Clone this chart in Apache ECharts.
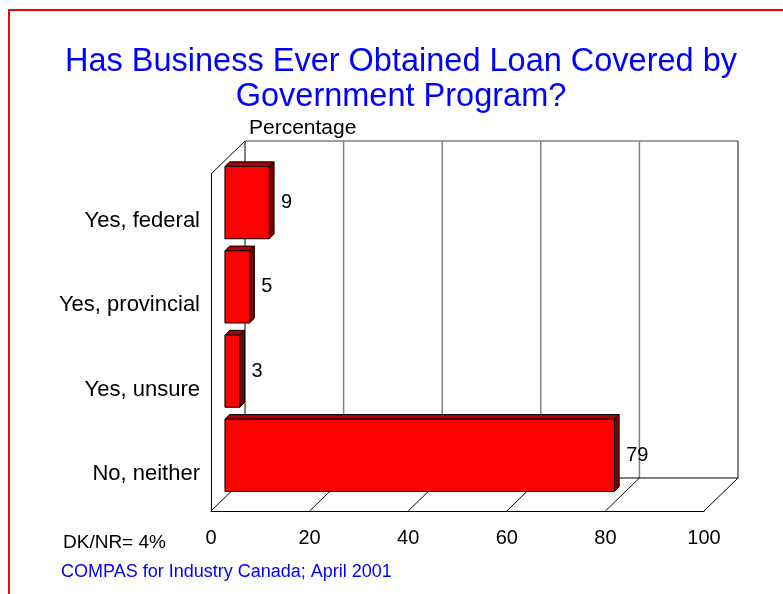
<!DOCTYPE html>
<html>
<head>
<meta charset="utf-8">
<script src="https://cdn.jsdelivr.net/npm/echarts@6/dist/echarts.min.js"></script>
<style>
  html, body { margin: 0; padding: 0; background: #fff; }
  #chart { width: 783px; height: 594px; }
</style>
</head>
<body>
<div id="chart"></div>
<script>
// Survey answers and their shares (percent)
const categories = ['Yes, federal', 'Yes, provincial', 'Yes, unsure', 'No, neither'];
const values = [9, 5, 3, 79];
const xTicks = [0, 20, 40, 60, 80, 100];

const titleText = 'Has Business Ever Obtained Loan Covered by\nGovernment Program?';
const axisTitle = 'Percentage';
const noteText = 'DK/NR= 4%';
const sourceText = 'COMPAS for Industry Canada; April 2001';

const FONT = 'Liberation Sans, Arial, sans-serif';

// Oblique depth of the 3D box (pixels from front plane to back wall)
const DX = 34, DY = -33;
// Bar slab placement inside the depth: front face fraction and thickness fraction
const BAR_T0 = 0.41, BAR_T = 0.14;
const BAR_FILL = 0.858;

const chart = echarts.init(document.getElementById('chart'), null, { renderer: 'canvas' });

function line(x1, y1, x2, y2, color, w) {
  return {
    type: 'line',
    shape: { x1, y1, x2, y2 },
    style: { stroke: color, lineWidth: w || 1 },
    silent: true
  };
}

// Back wall, floor and side wall of the 3D box
function renderFrame(params, api) {
  const cs = params.coordSys;
  const x0 = cs.x, y0 = cs.y, x1 = cs.x + cs.width, y1 = cs.y + cs.height;
  const children = [];
  // gridlines on the back wall
  xTicks.forEach(function (v) {
    if (v === xTicks[0] || v === xTicks[xTicks.length - 1]) return;
    const x = api.coord([v, 0])[0] + DX;
    children.push(line(x, y0 + DY, x, y1 + DY, '#808080', 1.5));
  });
  // floor diagonals at each tick
  xTicks.forEach(function (v) {
    const x = api.coord([v, 0])[0];
    children.push(line(x, y1, x + DX, y1 + DY, '#000', 1));
  });
  // back wall outline
  children.push(line(x0 + DX, y0 + DY, x1 + DX, y0 + DY, '#808080', 1.5));
  children.push(line(x1 + DX, y0 + DY, x1 + DX, y1 + DY, '#333', 1.2));
  children.push(line(x0 + DX, y1 + DY, x1 + DX, y1 + DY, '#000', 1));
  children.push(line(x0 + DX, y0 + DY, x0 + DX, y1 + DY, '#000', 1));
  // side wall top edge
  children.push(line(x0, y0, x0 + DX, y0 + DY, '#000', 1));
  return { type: 'group', children: children };
}

// One 3D slab per category: front face, top face, side face and value label
function renderBar(params, api) {
  const idx = api.value(1);
  const val = api.value(0);
  const c0 = api.coord([0, idx]);
  const c1 = api.coord([val, idx]);
  const band = api.size([0, 1])[1];
  const h = band * BAR_FILL;
  const fx = c0[0] + DX * BAR_T0;
  const fy = c0[1] - h / 2 + DY * BAR_T0;
  const w = c1[0] - c0[0];
  const bx = DX * BAR_T, by = DY * BAR_T;
  const stroke = { stroke: '#000', lineWidth: 1 };
  return {
    type: 'group',
    children: [
      {
        type: 'polygon',
        shape: { points: [[fx, fy], [fx + w, fy], [fx + w + bx, fy + by], [fx + bx, fy + by]] },
        style: Object.assign({ fill: '#B00000' }, stroke)
      },
      {
        type: 'polygon',
        shape: { points: [[fx + w, fy], [fx + w + bx, fy + by], [fx + w + bx, fy + h + by], [fx + w, fy + h]] },
        style: Object.assign({ fill: '#7A0000' }, stroke)
      },
      {
        type: 'rect',
        shape: { x: fx, y: fy, width: w, height: h },
        style: Object.assign({ fill: '#FF0000' }, stroke)
      },
      {
        type: 'text',
        style: {
          x: fx + w + bx + 7,
          y: fy + h / 2,
          text: String(val),
          fill: '#000',
          font: '20px ' + FONT,
          textAlign: 'left',
          textVerticalAlign: 'middle'
        }
      }
    ]
  };
}

const option = {
  animation: false,
  backgroundColor: '#fff',
  grid: { left: 211, top: 174, width: 493, height: 337, containLabel: false },
  xAxis: {
    type: 'value',
    min: 0,
    max: 100,
    interval: 20,
    axisLine: { show: true, lineStyle: { color: '#000', width: 1 } },
    axisTick: { show: false },
    splitLine: { show: false },
    axisLabel: { color: '#000', fontSize: 20, fontFamily: FONT, margin: 17 }
  },
  yAxis: {
    type: 'category',
    inverse: true,
    data: categories,
    axisLine: { show: true, lineStyle: { color: '#000', width: 1 } },
    axisTick: { show: false },
    splitLine: { show: false },
    axisLabel: {
      color: '#000', fontSize: 22, fontFamily: FONT, margin: 11,
      verticalAlign: 'top', lineHeight: 10
    }
  },
  series: [
    {
      type: 'custom',
      renderItem: renderFrame,
      data: [[0, 0]],
      z: 1,
      silent: true
    },
    {
      type: 'custom',
      renderItem: renderBar,
      data: values.map(function (v, i) { return [v, i]; }),
      encode: { x: 0, y: 1 },
      z: 2
    }
  ],
  graphic: [
    {
      type: 'polyline',
      shape: { points: [[9, 594], [9, 10], [783, 10]] },
      style: { stroke: '#FF0000', lineWidth: 2, fill: null },
      silent: true
    },
    {
      type: 'text',
      x: 401,
      y: 45,
      style: {
        text: titleText,
        fill: '#0000FF',
        font: '32.5px ' + FONT,
        lineHeight: 35,
        textAlign: 'center',
        textVerticalAlign: 'top'
      }
    },
    {
      type: 'text',
      x: 249,
      y: 128,
      style: { text: axisTitle, fill: '#000', font: '21px ' + FONT, textAlign: 'left', textVerticalAlign: 'middle' }
    },
    {
      type: 'text',
      x: 63,
      y: 543,
      style: { text: noteText, fill: '#000', font: '19px ' + FONT, textAlign: 'left', textVerticalAlign: 'middle' }
    },
    {
      type: 'text',
      x: 61,
      y: 572,
      style: { text: sourceText, fill: '#0000FF', font: '18px ' + FONT, textAlign: 'left', textVerticalAlign: 'middle' }
    }
  ]
};

chart.setOption(option);
</script>
</body>
</html>
